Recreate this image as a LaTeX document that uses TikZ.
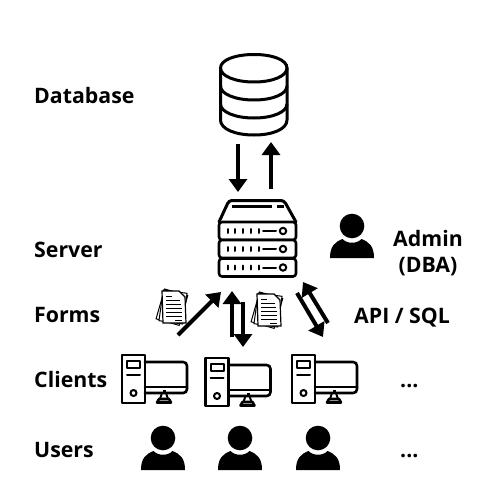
\documentclass[tikz,border=0pt]{standalone}
\usepackage{fontspec}
\setmainfont{Open Sans}
\usetikzlibrary{arrows.meta}
\tikzset{
  lab/.style={font=\bfseries\fontsize{21.3}{26}\selectfont,text=black,inner sep=0pt,align=center},
  leftlab/.style={lab,anchor=base west},
  flow/.style={line width=4pt,-{Triangle[width=18pt,length=13pt]},shorten >=0pt},
  ico/.style={line width=2.6pt,line join=round,line cap=round},
  pics/person/.style={code={
    \fill (0,-11) circle (12.3);
    \fill (-22,21) .. controls (-22,9) and (-17,5) .. (-9.5,2)
      .. controls (-5,7) and (5,7) .. (9.5,2)
      .. controls (17,5) and (22,9) .. (22,21) -- cycle;
  }},
  pics/pc/.style={code={
    \draw[ico] (0,0) rectangle (23,48);
    \draw[ico,line width=2pt] (5,6) rectangle (18,13);
    \draw[ico,line width=2pt] (5,20) -- (18,20);
    \draw[ico,line width=2pt] (11.5,38) circle (3);
    \draw[ico] (23,7) -- (61,7) .. controls (63.5,7) and (65,8.5) .. (65,11) -- (65,34)
      .. controls (65,36.5) and (63.5,38) .. (61,38) -- (23,38);
    \draw[ico] (23,32) -- (65,32);
    \fill (41,35) rectangle (44,38);
    \draw[ico,line width=2pt] (40,38) -- (38,44) -- (46,44) -- (44,38);
    \draw[ico] (35,47.5) -- (49,47.5) -- (47,44) -- (37,44) -- cycle;
  }},
  pics/doc/.style={code={
    \draw[line width=1pt,fill=white,rotate around={-16:(11,16)}] (-2,1) rectangle (22,32);
    \draw[line width=1pt,fill=white,rotate around={-8:(11,16)}] (-1,0.5) rectangle (23,31.5);
    \draw[line width=1.2pt,fill=white] (0,0) -- (17,0) -- (23,6) -- (24,32) -- (1,32) -- cycle;
    \draw[line width=.9pt] (4,5) -- (10,5);
    \draw[line width=.9pt] (4,9) -- (18,9);
    \draw[line width=.9pt] (4,13) -- (19,13) (4,17) -- (19.5,17) (4,21) -- (20,21) (4,25) -- (20,25);
    \draw[line width=.9pt] (13,29) -- (20,29);
  }},
  pics/rackrow/.style={code={
    \draw[ico,fill=white,rounded corners=3pt] (0,0) rectangle (77,18);
    \foreach \dx in {9,16,24,32,40} \draw[line width=2pt,line cap=round] (\dx,7) -- (\dx,11);
    \draw[line width=2pt,line cap=round] (44,9) -- (57,9);
    \draw[line width=2pt] (64,9) circle (3.2);
  }},
}
\begin{document}
\begin{tikzpicture}[x=1pt,y=-1pt]
\useasboundingbox (0,0) rectangle (500,500);
\fill[white] (0,0) rectangle (500,500);

% labels
\node[leftlab] (ldb) at (34,103) {Database};
\node[leftlab] (lsv) at (34,257) {Server};
\node[leftlab] (lfm) at (34,322) {Forms};
\node[leftlab] (lcl) at (34,387) {Clients};
\node[leftlab] (lus) at (34,457) {Users};
\node[lab,anchor=center] (ladm) at (428,253) {Admin\\(DBA)};
\node[leftlab] (lapi) at (354,323) {API / SQL};
\node[leftlab] (ldots1) at (400,387) {...};
\node[leftlab] (ldots2) at (400,457) {...};

% database
\begin{scope}[line width=3pt]
\draw (220.5,68) .. controls (220.5,60) and (235,54.5) .. (254,54.5)
      .. controls (273,54.5) and (287,60) .. (287,68)
      .. controls (287,76) and (273,82) .. (254,82)
      .. controls (235,82) and (220.5,76) .. (220.5,68) -- cycle;
\draw (220.5,68) -- (220.5,120) .. controls (220.5,129) and (235,135) .. (254,135)
      .. controls (273,135) and (287,129) .. (287,120) -- (287,68);
\draw (220.5,86) .. controls (220.5,94) and (235,100) .. (254,100)
      .. controls (273,100) and (287,94) .. (287,86);
\draw (220.5,104) .. controls (220.5,112) and (235,118) .. (254,118)
      .. controls (273,118) and (287,112) .. (287,104);
\end{scope}

% server
\draw[ico,line width=3pt,rounded corners=3pt] (219,222) -- (229,200.5) -- (284,200.5) -- (296,222);
\draw[line width=2.4pt] (232,206.5) -- (272,206.5) (277,206.5) -- (284,206.5);
\pic at (219,222) {rackrow};
\pic at (219,240) {rackrow};
\pic at (219,258.5) {rackrow};

% arrows
\coordinate (a1s) at (238,144); \coordinate (a1e) at (238,192);
\coordinate (a2s) at (271,189); \coordinate (a2e) at (271,142);
\coordinate (a3s) at (178,335); \coordinate (a3e) at (221,292);
\coordinate (a4s) at (232,337); \coordinate (a4e) at (232,291);
\coordinate (a5s) at (243,302); \coordinate (a5e) at (243,347);
\coordinate (a6s) at (328,323); \coordinate (a6e) at (303,282);
\coordinate (a7s) at (297,293); \coordinate (a7e) at (323,337);
\foreach \n in {1,...,7} \draw[flow] (a\n s) -- (a\n e);

% documents
\pic at (162,291) {doc};
\pic at (257,294) {doc};

% computers
\pic at (122,355) {pc};
\pic at (205.5,358) {pc};
\pic at (292,355) {pc};

% people
\pic at (163,449) {person};
\pic at (240,449) {person};
\pic at (318,449) {person};
\pic at (352,237) {person};
\end{tikzpicture}
\end{document}
